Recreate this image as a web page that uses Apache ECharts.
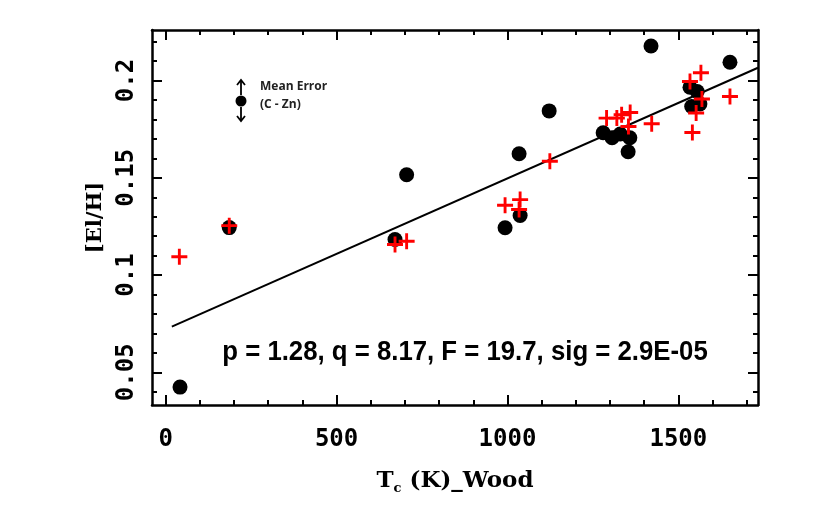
<!DOCTYPE html>
<html>
<head>
<meta charset="utf-8">
<script src="https://cdn.jsdelivr.net/npm/echarts@6/dist/echarts.min.js"></script>
<style>
  html, body { margin: 0; padding: 0; background: #fff; }
  #chart { width: 831px; height: 517px; }
</style>
</head>
<body>
<div id="chart"></div>
<script>
// black circles
var blackX = [42, 186, 671, 705, 993, 1034, 1037, 1122, 1280, 1306, 1330, 1358, 1353, 1420, 1534, 1555, 1539, 1563, 1651];
var blackY = [0.0424, 0.1244, 0.1183, 0.1516, 0.1243, 0.1624, 0.1306, 0.1844, 0.1732, 0.1706, 0.1725, 0.1706, 0.1634, 0.2178, 0.1966, 0.1944, 0.1867, 0.188, 0.2094];
// red crosses
var redX = [40, 186, 671, 705, 993, 1037, 1034, 1124, 1290, 1320, 1334, 1359, 1354, 1422, 1566, 1534, 1569, 1552, 1541, 1651];
var redY = [0.1094, 0.1254, 0.1157, 0.1174, 0.1359, 0.1388, 0.1337, 0.1585, 0.1807, 0.1807, 0.1824, 0.1836, 0.1764, 0.1778, 0.204, 0.1995, 0.1905, 0.1833, 0.1733, 0.1918];
// regression line end points
var fitX = [18, 1733];
var fitY = [0.0735, 0.2066];

var xMajor = [0, 500, 1000, 1500];
var xMinor = [0, 100, 200, 300, 400, 500, 600, 700, 800, 900, 1000, 1100, 1200, 1300, 1400, 1500, 1600, 1700];
var yMajor = [0.05, 0.1, 0.15, 0.2];
var yMinor = [0.04, 0.05, 0.06, 0.07, 0.08, 0.09, 0.1, 0.11, 0.12, 0.13, 0.14, 0.15, 0.16, 0.17, 0.18, 0.19, 0.2, 0.21, 0.22];

var note = 'p = 1.28, q = 8.17, F = 19.7, sig = 2.9E-05';

function zip(a, b) {
  return a.map(function (v, i) { return [v, b[i]]; });
}

var tickFont = 'DejaVu Sans Mono';
var plain = function (v) { return String(v); };

// one axis per tick length and side, all sharing the same range
function xAx(pos, ticks, len, labels, line) {
  return {
    type: 'value', position: pos, min: -40, max: 1733,
    axisLine: { show: line, onZero: false, lineStyle: { color: '#000', width: 2.5 } },
    axisTick: { show: true, inside: true, length: len, customValues: ticks, lineStyle: { color: '#000', width: 2 } },
    axisLabel: labels ? { show: true, customValues: xMajor, formatter: plain, margin: 23, color: '#000', fontFamily: tickFont, fontWeight: 'bold', fontSize: 24 } : { show: false },
    splitLine: { show: false }
  };
}
function yAx(pos, ticks, len, labels, line) {
  return {
    type: 'value', position: pos, min: 0.0332, max: 0.226,
    axisLine: { show: line, onZero: false, lineStyle: { color: '#000', width: 2.5 } },
    axisTick: { show: true, inside: true, length: len, customValues: ticks, lineStyle: { color: '#000', width: 2 } },
    axisLabel: labels ? { show: true, customValues: yMajor, formatter: plain, rotate: 90, margin: 13, color: '#000', fontFamily: tickFont, fontWeight: 'bold', fontSize: 24 } : { show: false },
    splitLine: { show: false }
  };
}

var xAxes = [xAx('bottom', xMajor, 10, true, true), xAx('bottom', xMinor, 5, false, false),
             xAx('top', xMajor, 10, false, true), xAx('top', xMinor, 5, false, false)];
xAxes[0].name = '{a|T}{b|c}{a| (K)_Wood}';
xAxes[0].nameLocation = 'middle';
xAxes[0].nameGap = 62;
xAxes[0].nameTextStyle = {
  rich: {
    a: { fontFamily: 'DejaVu Serif', fontWeight: 'bold', fontSize: 23, color: '#000' },
    b: { fontFamily: 'DejaVu Serif', fontWeight: 'bold', fontSize: 13, color: '#000', padding: [15, 0, 0, 0] }
  }
};

var yAxes = [yAx('left', yMajor, 10, true, true), yAx('left', yMinor, 5, false, false),
             yAx('right', yMajor, 10, false, true), yAx('right', yMinor, 5, false, false)];
yAxes[0].name = '[El/H]';
yAxes[0].nameLocation = 'middle';
yAxes[0].nameGap = 46;
yAxes[0].nameTextStyle = { fontFamily: 'DejaVu Serif', fontWeight: 'bold', fontSize: 21, color: '#000' };

var myChart = echarts.init(document.getElementById('chart'));

myChart.setOption({
  animation: false,
  backgroundColor: '#fff',
  grid: { left: 152, right: 73, top: 30, bottom: 112 },
  xAxis: xAxes,
  yAxis: yAxes,
  series: [
    {
      type: 'scatter', symbol: 'circle', symbolSize: 15,
      itemStyle: { color: '#000', opacity: 1 },
      data: zip(blackX, blackY), z: 2
    },
    {
      type: 'line', data: zip(fitX, fitY), symbol: 'none',
      lineStyle: { color: '#000', width: 2 }, z: 3
    },
    {
      type: 'scatter',
      symbol: 'path://M4.1,0h1.8v4.1h4.1v1.8h-4.1v4.1h-1.8v-4.1h-4.1v-1.8h4.1z',
      symbolSize: 16,
      itemStyle: { color: '#ff0000', opacity: 1 },
      data: zip(redX, redY), z: 4
    }
  ],
  graphic: [
    // mean error marker
    { type: 'circle', shape: { cx: 241, cy: 101, r: 5.5 }, style: { fill: '#000' } },
    { type: 'polyline', shape: { points: [[241, 95], [241, 80]] }, style: { stroke: '#000', lineWidth: 1.8 } },
    { type: 'polyline', shape: { points: [[237, 85], [241, 80], [245, 85]] }, style: { stroke: '#000', lineWidth: 1.8, fill: null } },
    { type: 'polyline', shape: { points: [[241, 107], [241, 121]] }, style: { stroke: '#000', lineWidth: 1.8 } },
    { type: 'polyline', shape: { points: [[237, 116], [241, 121], [245, 116]] }, style: { stroke: '#000', lineWidth: 1.8, fill: null } },
    { type: 'text', left: 260, top: 81, style: { text: 'Mean Error', font: 'bold 12px "Open Sans"', fill: '#222' } },
    { type: 'text', left: 260, top: 99, style: { text: '(C - Zn)', font: 'bold 12px "Open Sans"', fill: '#222' } },
    // fit statistics, squeezed to look like a narrow face
    { type: 'text', x: 465, y: 352, scaleX: 0.92, style: { text: note, font: 'bold 28px "Liberation Sans"', fill: '#000', align: 'center', verticalAlign: 'middle' } }
  ]
});
</script>
</body>
</html>
